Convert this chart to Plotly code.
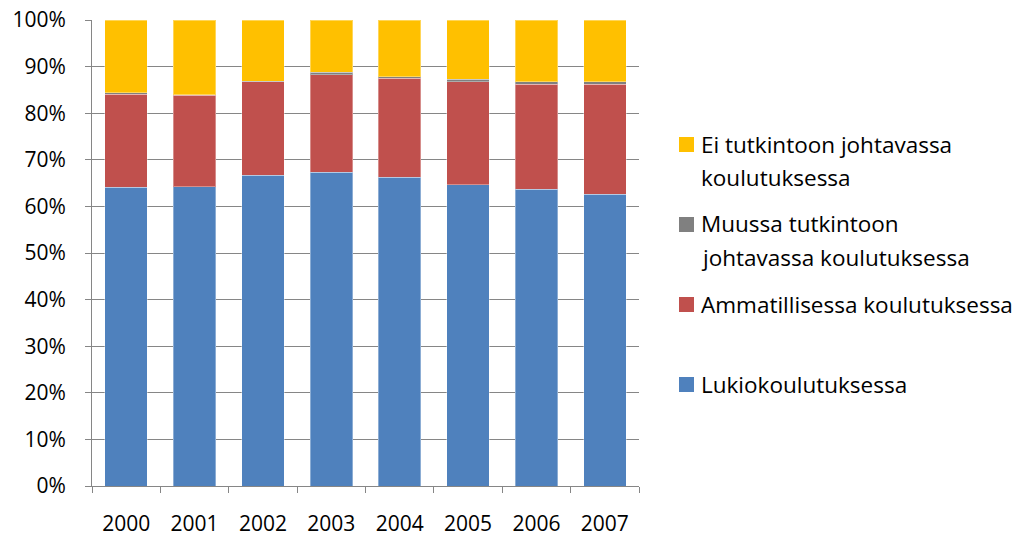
import plotly.graph_objects as go

years = ["2000", "2001", "2002", "2003", "2004", "2005", "2006", "2007"]
lukio = [64.1, 64.2, 66.7, 67.3, 66.3, 64.7, 63.7, 62.6]
ammatillinen = [20.0, 19.6, 20.1, 21.0, 21.2, 22.1, 22.5, 23.6]
muu = [0.3, 0.2, 0.1, 0.5, 0.3, 0.5, 0.5, 0.6]
ei = [15.6, 16.0, 13.1, 11.2, 12.2, 12.7, 13.3, 13.2]

series = [
    ("Lukiokoulutuksessa", lukio, "#4F81BD"),
    ("Ammatillisessa koulutuksessa", ammatillinen, "#C0504D"),
    ("Muussa tutkintoon johtavassa koulutuksessa", muu, "#808080"),
    ("Ei tutkintoon johtavassa koulutuksessa", ei, "#FFC000"),
]

# legend text lines (as wrapped in the original)
legend_lines = [
    ("Ei tutkintoon johtavassa", "koulutuksessa"),
    ("Muussa tutkintoon", "johtavassa koulutuksessa"),
    ("Ammatillisessa koulutuksessa",),
    ("Lukiokoulutuksessa",),
]
legend_colors = ["#FFC000", "#808080", "#C0504D", "#4F81BD"]

FONT = "Open Sans"
fig = go.Figure()
for name, vals, col in series:
    fig.add_trace(go.Bar(
        x=years, y=[v / 100 for v in vals], name=name,
        marker=dict(color=col, line=dict(color="rgba(255,255,255,0.35)", width=1)),
        width=0.62, showlegend=False,
    ))

W, H = 1020, 538
L, R, T, B = 92, 381, 20, 52
pw, ph = W - L - R, H - T - B

def px_x(x):
    return (x - L) / pw

def px_y(y):
    return (H - B - y) / ph

baselines = [152, 232, 312, 392]
line_gap = 33
LEG_SIZE = 22.5
for lines, col, bl in zip(legend_lines, legend_colors, baselines):
    fig.add_shape(type="rect", xref="paper", yref="paper",
                  x0=px_x(679), x1=px_x(694), y0=px_y(bl), y1=px_y(bl - 15),
                  fillcolor=col, line=dict(width=0))
    for i, t in enumerate(lines):
        fig.add_annotation(text=t, xref="paper", yref="paper",
                           x=px_x(699), y=px_y(bl + i * line_gap - 8),
                           xanchor="left", yanchor="middle", showarrow=False,
                           font=dict(family=FONT, size=LEG_SIZE, color="#000000"))

fig.update_layout(
    barmode="stack",
    width=W, height=H,
    margin=dict(l=L, r=R, t=T, b=B, autoexpand=False),
    plot_bgcolor="white", paper_bgcolor="white",
    font=dict(family=FONT, size=21, color="#000000"),
    xaxis=dict(
        showline=True, linecolor="#868686", linewidth=1,
        ticks="outside", tickson="boundaries", ticklen=6, tickcolor="#868686",
        showgrid=False, ticklabelstandoff=19, automargin=False,
    ),
    yaxis=dict(
        range=[0, 1], tickformat=".0%", dtick=0.1,
        showline=True, linecolor="#868686", linewidth=1,
        ticks="outside", ticklen=6, tickcolor="#868686",
        showgrid=True, gridcolor="#868686", gridwidth=1,
        zeroline=False, ticklabelstandoff=15, automargin=False,
    ),
)

fig.write_html(
    "out.html",
    config={"displayModeBar": False},
    post_script="document.body.style.margin='0px';document.body.style.overflow='hidden';",
)
